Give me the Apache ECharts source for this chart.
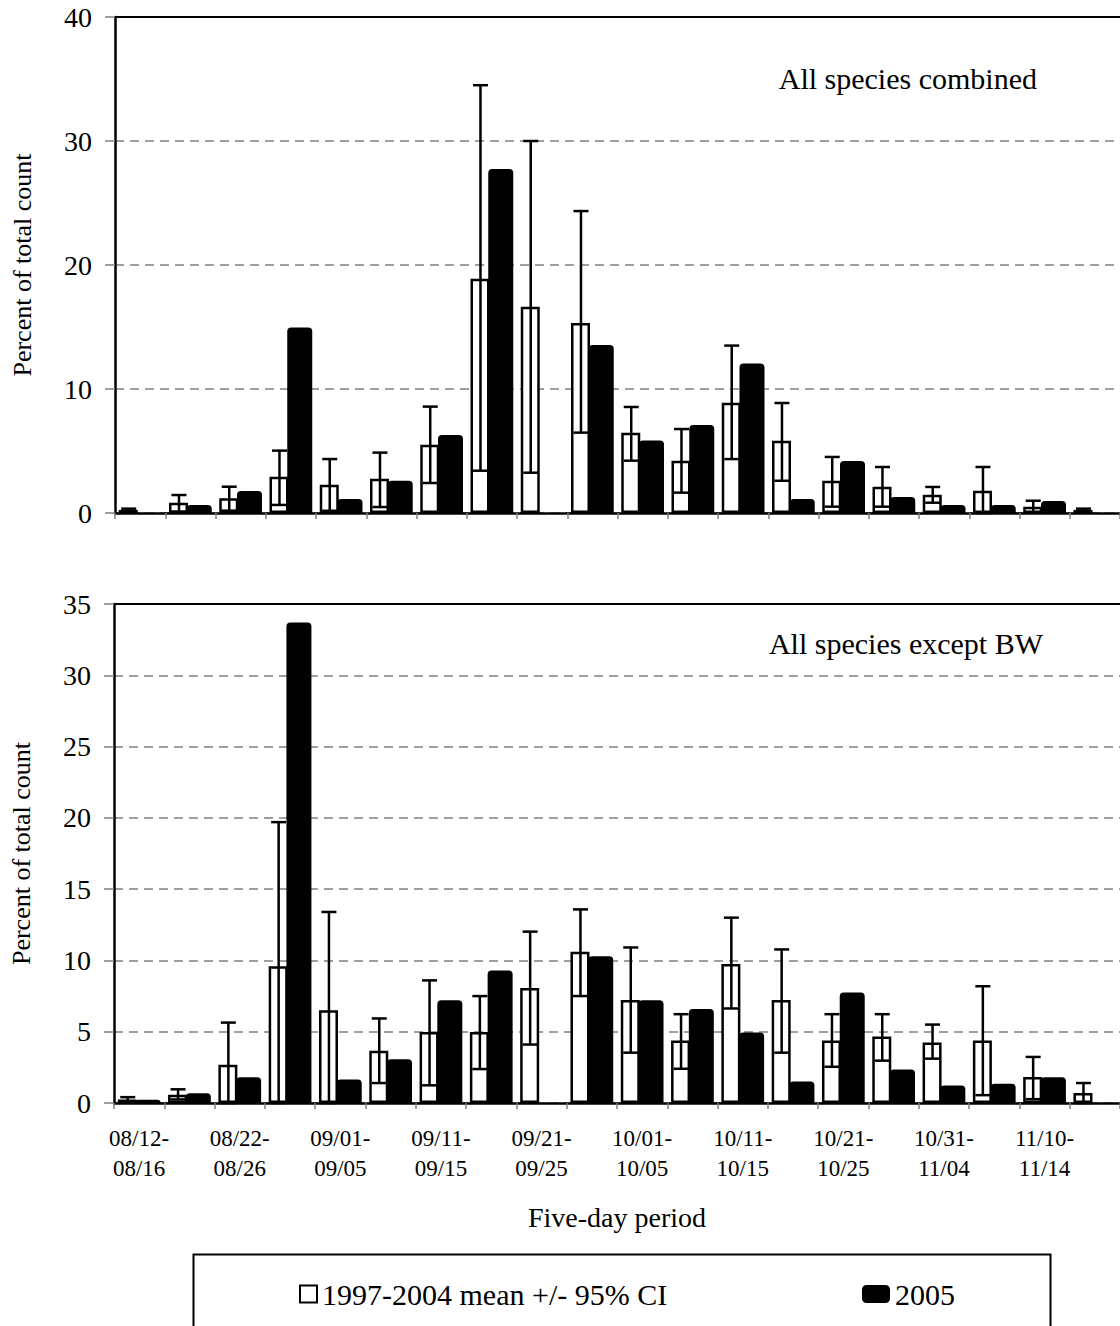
<!DOCTYPE html>
<html>
<head>
<meta charset="utf-8">
<script src="https://cdn.jsdelivr.net/npm/echarts@6/dist/echarts.min.js"></script>
<style>
html,body{margin:0;padding:0;background:#fff;}
#chart{width:1120px;height:1326px;}
</style>
</head>
<body>
<div id="chart"></div>
<script>
// ---- data ----
const periods = ['08/12-08/16','08/17-08/21','08/22-08/26','08/27-08/31','09/01-09/05','09/06-09/10',
  '09/11-09/15','09/16-09/20','09/21-09/25','09/26-09/30','10/01-10/05','10/06-10/10',
  '10/11-10/15','10/16-10/20','10/21-10/25','10/26-10/30','10/31-11/04','11/05-11/09',
  '11/10-11/14','11/15-11/19'];

// All species combined
const allMean = [0.25,0.83,1.18,2.93,2.28,2.77,5.51,18.9,16.64,15.32,6.48,4.22,8.9,5.83,2.6,2.12,1.48,1.8,0.51,0.25];
const allLow  = [0.1,0.1,0.19,0.65,0.18,0.48,2.42,3.41,3.25,6.48,4.22,1.64,4.35,2.6,0.51,0.51,0.83,0,0.05,0.1];
const allHigh = [0.35,1.45,2.12,5.03,4.35,4.87,8.58,34.5,30.0,24.35,8.55,6.77,13.5,8.87,4.52,3.71,2.1,3.71,0.99,0.35];
const all2005 = [0,0.65,1.78,14.95,1.12,2.6,6.3,27.75,0,13.55,5.85,7.1,12.05,1.12,4.2,1.3,0.65,0.65,0.97,0];

// All species except BW
const exMean = [0.25,0.58,2.68,9.6,6.5,3.67,4.98,4.98,8.07,10.6,7.22,4.38,9.75,7.22,4.38,4.67,4.24,4.38,1.83,0.7];
const exLow  = [0.1,0.25,0,0,0,1.4,1.24,2.38,4.1,7.5,3.53,2.4,6.63,3.53,2.54,2.97,3.11,0.55,0.27,0];
const exHigh = [0.41,0.96,5.64,19.7,13.4,5.93,8.6,7.5,12.02,13.58,10.91,6.23,13.0,10.77,6.23,6.23,5.5,8.19,3.23,1.4];
const ex2005 = [0.22,0.68,1.8,33.7,1.65,3.07,7.2,9.3,0,10.3,7.2,6.6,4.95,1.5,7.75,2.35,1.22,1.35,1.8,0];

const nameMean = '1997-2004 mean +/- 95% CI';
const name2005 = '2005';
const yTitle = 'Percent of total count';
const xTitle = 'Five-day period';
const panelTitles = ['All species combined','All species except BW'];

// ---- chart ----
const FONT = '"Liberation Serif","Times New Roman",serif';
const chart = echarts.init(document.getElementById('chart'), null, {renderer:'svg'});

const MEAN_OFFSET = -11.4; // px shift of mean bar centre from band centre
function errRender(params, api){
  const i = api.value(0);
  const lo = api.coord([i, api.value(1)]);
  const hi = api.coord([i, api.value(2)]);
  const x = lo[0] + MEAN_OFFSET;
  const st = {stroke:'#000', lineWidth:2.5};
  return {type:'group', children:[
    {type:'line', shape:{x1:x,y1:lo[1],x2:x,y2:hi[1]}, style:st},
    {type:'line', shape:{x1:x-7.5,y1:hi[1],x2:x+7.5,y2:hi[1]}, style:st},
    {type:'line', shape:{x1:x-7.5,y1:lo[1],x2:x+7.5,y2:lo[1]}, style:st}
  ]};
}

function xAxis(gi, labels){
  return {
    gridIndex: gi, type:'category', data: periods, boundaryGap:true,
    axisLine:{lineStyle:{color:'#000', width:2.5}},
    axisTick:{show:true, interval:0, length:6, lineStyle:{color:'#808080', width:1.5}},
    axisLabel: labels ? {show:true, interval:1, fontFamily:FONT, fontSize:23, lineHeight:30, color:'#000', margin:20,
        formatter: v => v.replace('-', '-\n')} : {show:false},
    name: labels ? xTitle : '', nameLocation:'middle', nameGap:100,
    nameTextStyle:{fontFamily:FONT, fontSize:28, color:'#000'}
  };
}
function topFrame(gi){
  return {gridIndex:gi, type:'category', data:periods, position:'top',
    axisLine:{show:true, lineStyle:{color:'#000', width:2}}, axisTick:{show:false}, axisLabel:{show:false}, splitLine:{show:false}};
}
function yAxis(gi, max, interval){
  return {
    gridIndex: gi, type:'value', min:0, max:max, interval:interval,
    axisLine:{show:true, lineStyle:{color:'#000', width:2.5}},
    axisTick:{show:true, length:10, lineStyle:{color:'#808080', width:1.5}},
    axisLabel:{fontFamily:FONT, fontSize:28, color:'#000', margin:23},
    splitLine:{show:true, lineStyle:{color:'#808080', type:[9,6], width:1.5}},
    name: yTitle, nameLocation:'middle', nameGap:80,
    nameTextStyle:{fontFamily:FONT, fontSize:26, color:'#000'}
  };
}
function barsFor(gi, mean, low, high, y2005){
  return [
    {name:nameMean, type:'bar', xAxisIndex:gi, yAxisIndex:gi, data:mean, barWidth:19, barGap:'-6.6%',
     itemStyle:{color:'#fff', borderColor:'#000', borderWidth:2.5}, z:2, animation:false},
    {name:'CI', type:'custom', xAxisIndex:gi, yAxisIndex:gi, renderItem:errRender,
     data: low.map((l,i)=>[i, l, high[i]]), encode:{x:0, y:[1,2]}, z:3, animation:false, silent:true},
    {name:name2005, type:'bar', xAxisIndex:gi, yAxisIndex:gi, data:y2005, barWidth:25, barGap:'-6.6%',
     itemStyle:{color:'#000', borderRadius:[4,4,0,0]}, z:4, animation:false}
  ];
}

chart.setOption({
  backgroundColor:'#fff',
  animation:false,
  title:[
    {text:panelTitles[0], right:83, top:63, padding:0, textStyle:{fontFamily:FONT, fontSize:30, fontWeight:'normal', color:'#000'}},
    {text:panelTitles[1], right:77, top:628, padding:0, textStyle:{fontFamily:FONT, fontSize:30, fontWeight:'normal', color:'#000'}}
  ],
  grid:[
    {left:115, top:17, width:1009, height:496, show:false},
    {left:114, top:604, width:1010, height:499, show:false}
  ],
  xAxis:[xAxis(0,false), xAxis(1,true), topFrame(0), topFrame(1)],
  yAxis:[yAxis(0,40,10), yAxis(1,35,5)],
  legend:[
    {left:299, top:1279, itemWidth:17, itemHeight:17, padding:0, selectedMode:false,
     textStyle:{fontFamily:FONT, fontSize:30, color:'#000'}, data:[{name:nameMean, icon:'rect'}]},
    {left:862, top:1279, itemWidth:28, itemHeight:18, padding:0, selectedMode:false,
     textStyle:{fontFamily:FONT, fontSize:30, color:'#000'}, data:[{name:name2005, icon:'roundRect'}]}
  ],
  graphic:[
    {type:'rect', left:191, top:1252, shape:{width:857, height:120},
     style:{fill:'none', stroke:'#000', lineWidth:2}, silent:true}
  ],
  series:[].concat(barsFor(0, allMean, allLow, allHigh, all2005), barsFor(1, exMean, exLow, exHigh, ex2005))
});
</script>
</body>
</html>
